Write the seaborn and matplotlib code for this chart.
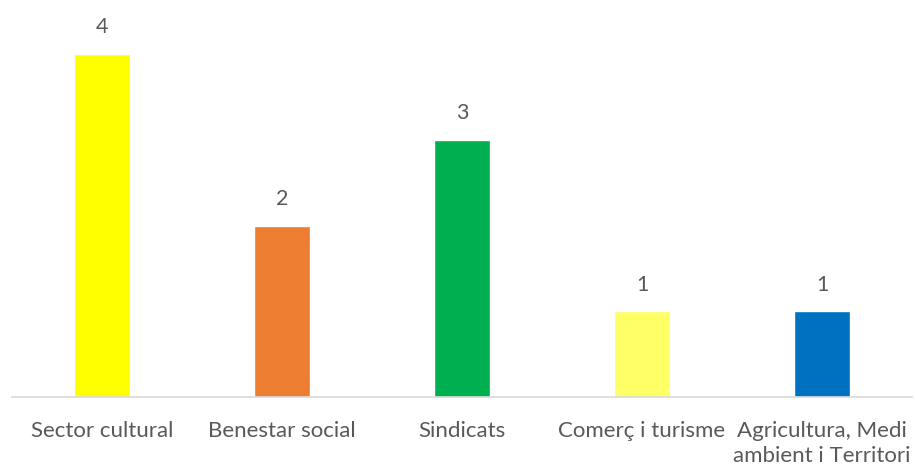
import pandas as pd
import matplotlib.pyplot as plt
import seaborn as sns

# Data
categories = ["Sector cultural", "Benestar social", "Sindicats",
              "Comerç i turisme", "Agricultura, Medi\nambient i Territori"]
values = [4, 2, 3, 1, 1]
colors = ["#FFFF00", "#ED7D31", "#00B050", "#FFFF66", "#0070C0"]

df = pd.DataFrame({"Sector": categories, "Count": values})

sns.set_style("white")
plt.rcParams["font.family"] = ["Lato", "DejaVu Sans"]

fig = plt.figure(figsize=(9.15, 4.67), dpi=100)
ax = fig.add_axes([12 / 915, 70 / 467, 900 / 915, 397 / 467])

sns.barplot(data=df, x="Sector", y="Count", hue="Sector", palette=colors,
            width=0.31, legend=False, ax=ax, saturation=1)

# Value labels above bars
for i, v in enumerate(values):
    ax.annotate(str(v), (i, v), xytext=(0, 12), textcoords="offset points",
                ha="center", va="bottom", fontsize=15.5, color="#595959")

ax.set_ylim(0, 397 / 85.75)
ax.set_xlim(-0.5, 4.5)
ax.set_xlabel("")
ax.set_ylabel("")
ax.set_yticks([])
ax.tick_params(axis="x", length=0, pad=17, labelsize=16, labelcolor="#595959")
for lbl in ax.get_xticklabels():
    lbl.set_linespacing(1.35)
for s in ["top", "right", "left"]:
    ax.spines[s].set_visible(False)
ax.spines["bottom"].set_color("#D9D9D9")
ax.spines["bottom"].set_linewidth(1.2)

fig.savefig("out.png", dpi=100)
